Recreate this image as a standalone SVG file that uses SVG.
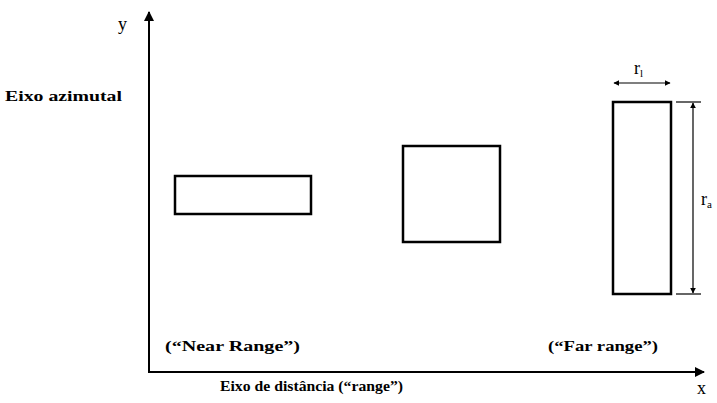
<svg xmlns="http://www.w3.org/2000/svg" width="717" height="403" viewBox="0 0 717 403">
<style>
.t{font-family:"Liberation Serif","DejaVu Serif","Times New Roman",serif;font-size:15px;font-weight:bold;fill:#000}
.ax{font-family:"Liberation Serif","DejaVu Serif","Times New Roman",serif;font-size:18px;fill:#000}
.box{fill:#fff;stroke:#000;stroke-width:2.5}
.ln{stroke:#000;stroke-width:2;fill:none}
.thin{stroke:#000;stroke-width:1.2;fill:none}
</style>
<defs>
<marker id="ah" viewBox="0 0 10 10" refX="9" refY="5" markerWidth="5" markerHeight="5" orient="auto-start-reverse">
<path d="M0,0 L10,5 L0,10 z" fill="#000"/>
</marker>
</defs>
<rect width="717" height="403" fill="#fff"/>
<g id="connectors">
<line class="ln" x1="149" y1="373" x2="149" y2="12" marker-end="url(#ah)"/>
<line class="ln" x1="148" y1="372" x2="704" y2="372" marker-end="url(#ah)"/>
<line class="thin" x1="614" y1="83" x2="670" y2="83" marker-start="url(#ah)" marker-end="url(#ah)"/>
<line class="thin" x1="676" y1="102" x2="701" y2="102"/>
<line class="thin" x1="676" y1="294" x2="701" y2="294"/>
<line class="thin" x1="693" y1="103" x2="693" y2="293" marker-start="url(#ah)" marker-end="url(#ah)"/>
</g>
<g id="axis-labels">
<text class="ax" x="118" y="30">y</text>
<text class="ax" x="697" y="394">x</text>
<text class="t" x="5" y="101" textLength="117" lengthAdjust="spacingAndGlyphs">Eixo azimutal</text>
<text class="t" x="220" y="391" textLength="183" lengthAdjust="spacingAndGlyphs">Eixo de distância (“range”)</text>
</g>
<g id="near"><rect class="box" x="175" y="176" width="136" height="38"/></g>
<g id="mid"><rect class="box" x="403" y="146" width="97" height="96"/></g>
<g id="far"><rect class="box" x="613" y="102" width="58" height="192"/></g>
<g id="dim-labels">
<text class="ax" x="634" y="74">r<tspan font-size="11" dy="3">l</tspan></text>
<text class="ax" x="701" y="205">r<tspan font-size="11" dy="3">a</tspan></text>
</g>
<g id="range-labels">
<text class="t" x="165" y="351" textLength="135" lengthAdjust="spacingAndGlyphs">(“Near Range”)</text>
<text class="t" x="548" y="351" textLength="110" lengthAdjust="spacingAndGlyphs">(“Far range”)</text>
</g>
</svg>
